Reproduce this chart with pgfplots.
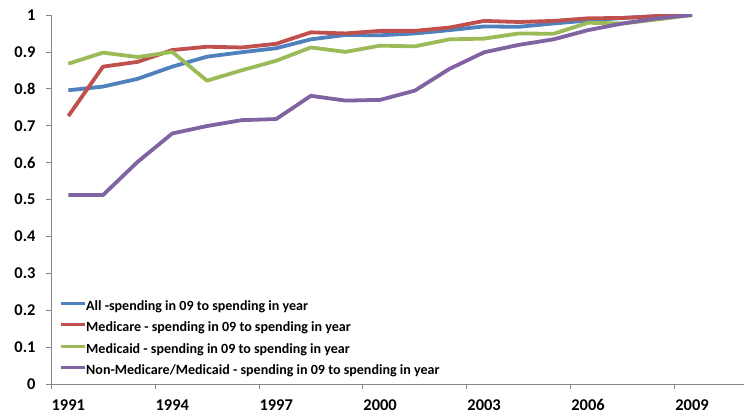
\documentclass[border=0pt]{standalone}
\usepackage{fontspec}
\setmainfont{Carlito}
\usepackage{pgfplots}
\pgfplotsset{compat=1.18}
\definecolor{cblue}{HTML}{4F81BD}
\definecolor{cred}{HTML}{C0504D}
\definecolor{cgreen}{HTML}{9BBB59}
\definecolor{cpurple}{HTML}{8064A2}
\definecolor{axgray}{HTML}{868686}
\begin{document}
\begin{tikzpicture}
\path[use as bounding box] (-51bp,-32bp) rectangle (699bp,384bp);
\begin{axis}[
  at={(0,0)}, anchor=south west,
  scale only axis, width=693bp, height=369bp,
  xmin=1990.5, xmax=2010.5, ymin=0, ymax=1,
  axis x line*=bottom, axis y line*=left,
  axis line style={axgray, line width=0.75bp},
  tick style={axgray, line width=0.75bp},
  tick align=outside, major tick length=5bp,
  xtick={1990.5,1993.5,1996.5,1999.5,2002.5,2005.5,2008.5},
  xticklabels={1991,1994,1997,2000,2003,2006,2009},
  x tick label style={xshift=17.3bp, yshift=-7bp},
  y tick label style={xshift=-7bp},
  ytick={0,0.1,0.2,0.3,0.4,0.5,0.6,0.7,0.8,0.9,1},
  yticklabels={0,0.1,0.2,0.3,0.4,0.5,0.6,0.7,0.8,0.9,1},
  tick label style={font=\fontsize{16.5}{18}\selectfont\bfseries, text=black},
  legend style={draw=none, fill=none, at={(5bp,86bp)}, anchor=north west,
    font=\fontsize{14.1}{16}\selectfont\bfseries, row sep=8.5bp,
    nodes={inner sep=0pt, text height=10bp, text depth=3bp}},
  legend cell align=left,
  legend image code/.code={\draw[#1, line width=3bp] (0bp,3.5bp) -- (24bp,3.5bp);},
  every axis plot/.append style={line width=3.8bp, line join=round},
]
\addplot[cblue] coordinates {(1991,0.796)(1992,0.806)(1993,0.827)(1994,0.860)(1995,0.887)(1996,0.899)(1997,0.910)(1998,0.934)(1999,0.946)(2000,0.945)(2001,0.950)(2002,0.959)(2003,0.969)(2004,0.968)(2005,0.977)(2006,0.985)(2007,0.992)(2008,0.997)(2009,1.0)};
\addplot[cred] coordinates {(1991,0.726)(1992,0.860)(1993,0.873)(1994,0.905)(1995,0.914)(1996,0.912)(1997,0.922)(1998,0.953)(1999,0.950)(2000,0.957)(2001,0.957)(2002,0.966)(2003,0.984)(2004,0.981)(2005,0.984)(2006,0.991)(2007,0.992)(2008,0.997)(2009,1.0)};
\addplot[cgreen] coordinates {(1991,0.868)(1992,0.898)(1993,0.886)(1994,0.900)(1995,0.822)(1996,0.850)(1997,0.876)(1998,0.912)(1999,0.900)(2000,0.917)(2001,0.915)(2002,0.934)(2003,0.936)(2004,0.950)(2005,0.949)(2006,0.979)(2007,0.977)(2008,0.988)(2009,1.0)};
\addplot[cpurple] coordinates {(1991,0.512)(1992,0.512)(1993,0.602)(1994,0.679)(1995,0.699)(1996,0.715)(1997,0.718)(1998,0.781)(1999,0.768)(2000,0.770)(2001,0.795)(2002,0.854)(2003,0.899)(2004,0.919)(2005,0.934)(2006,0.959)(2007,0.977)(2008,0.991)(2009,1.0)};
\legend{All -spending in 09 to spending in year,
Medicare - spending in 09 to spending in year,
Medicaid - spending in 09 to spending in year,
Non-Medicare/Medicaid - spending in 09 to spending in year}
\end{axis}
\end{tikzpicture}
\end{document}
